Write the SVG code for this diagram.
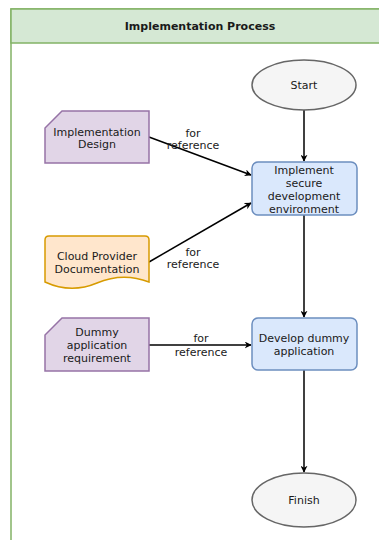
<svg xmlns="http://www.w3.org/2000/svg" width="379" height="540" viewBox="0 0 379 540">
<defs>
<style>
text{font-family:"DejaVu Sans",Verdana,sans-serif;font-size:11px;fill:#1a1a1a;text-anchor:middle;dominant-baseline:central}
.title{font-weight:bold;font-size:11px}
.edge{stroke:#000;stroke-width:1.5;fill:none;marker-end:url(#arr)}
.purple{fill:#e1d5e7;stroke:#9673a6;stroke-width:1.5}
.blue{fill:#dae8fc;stroke:#6c8ebf;stroke-width:1.5}
.grey{fill:#f5f5f5;stroke:#666;stroke-width:1.5}
.orange{fill:#ffe6cc;stroke:#d79b00;stroke-width:1.5}
</style>
<marker id="arr" viewBox="0 0 10 10" refX="9" refY="5" markerWidth="7" markerHeight="7" orient="auto" markerUnits="userSpaceOnUse">
<path d="M0,0 L10,5 L0,10 L3,5 Z" fill="#000"/>
</marker>
</defs>
<g id="lane">
<rect x="11" y="9" width="390" height="545" fill="#fff" stroke="#82b366" stroke-width="1.5"/>
<rect x="11" y="9" width="390" height="34" fill="#d5e8d4" stroke="#82b366" stroke-width="1.5"/>
<text class="title" x="200" y="26">Implementation Process</text>
</g>
<g id="edges">
<line class="edge" x1="304" y1="110" x2="304" y2="161"/>
<line class="edge" x1="304" y1="215" x2="304" y2="317"/>
<line class="edge" x1="304" y1="370" x2="304" y2="472"/>
<line class="edge" x1="149" y1="137" x2="251" y2="175"/>
<line class="edge" x1="149" y1="262" x2="251" y2="203"/>
<line class="edge" x1="149" y1="345" x2="251" y2="345"/>
<g id="edge-labels">
<text x="193" y="133">for</text>
<text x="193" y="145">reference</text>
<text x="193" y="252">for</text>
<text x="193" y="264">reference</text>
<text x="201" y="338">for</text>
<text x="201" y="352">reference</text>
</g>
</g>
<g id="start">
<ellipse class="grey" cx="304" cy="85" rx="52" ry="25"/>
<text x="304" y="85">Start</text>
</g>
<g id="implement">
<rect class="blue" x="252" y="162" width="105" height="53" rx="6"/>
<text x="304" y="170">Implement</text>
<text x="304" y="183">secure</text>
<text x="304" y="196">development</text>
<text x="304" y="209">environment</text>
</g>
<g id="develop">
<rect class="blue" x="252" y="318" width="105" height="52" rx="6"/>
<text x="304" y="338">Develop dummy</text>
<text x="304" y="351">application</text>
</g>
<g id="finish">
<ellipse class="grey" cx="304" cy="500" rx="52" ry="27"/>
<text x="304" y="500">Finish</text>
</g>
<g id="impl-design">
<path class="purple" d="M62,111 H149 V163 H45 V128 Z"/>
<text x="97" y="132">Implementation</text>
<text x="97" y="144">Design</text>
</g>
<g id="cloud-doc">
<path class="orange" d="M49,236 H145 Q149,236 149,240 V282 Q123,272 97,283 Q71,294 45,282 V240 Q45,236 49,236 Z"/>
<text x="97" y="256">Cloud Provider</text>
<text x="97" y="269">Documentation</text>
</g>
<g id="dummy-req">
<path class="purple" d="M62,318 H149 V371 H45 V335 Z"/>
<text x="97" y="332">Dummy</text>
<text x="97" y="345">application</text>
<text x="97" y="358">requirement</text>
</g>
</svg>
